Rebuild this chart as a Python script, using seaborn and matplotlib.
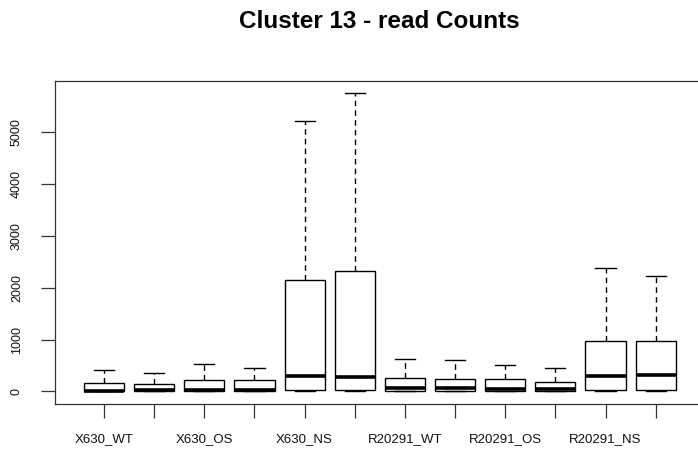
import numpy as np
import pandas as pd
import matplotlib
matplotlib.use("Agg")
import matplotlib.pyplot as plt
import seaborn as sns

plt.rcParams['font.family'] = ['Liberation Sans', 'DejaVu Sans']

# --- data ---
groups = ["X630_WT", "X630_WT.1", "X630_OS", "X630_OS.1", "X630_NS", "X630_NS.1",
          "R20291_WT", "R20291_WT.1", "R20291_OS", "R20291_OS.1", "R20291_NS", "R20291_NS.1"]
tick_labels = ["X630_WT", "", "X630_OS", "", "X630_NS", "",
               "R20291_WT", "", "R20291_OS", "", "R20291_NS", ""]
lower_whisker = [0, 0, 0, 0, 5, 0, 0, 0, 0, 0, 0, 0]
q1 = [0, 0, 0, 0, 25, 25, 0, 0, 0, 0, 25, 25]
median = [8, 25, 30, 30, 295, 270, 55, 55, 40, 40, 295, 320]
q3 = [166, 135, 218, 218, 2148, 2328, 263, 237, 237, 185, 971, 971]
upper_whisker = [417, 347, 527, 450, 5211, 5763, 630, 604, 502, 450, 2386, 2225]
yticks = [0, 1000, 2000, 3000, 4000, 5000]
title = "Cluster 13 - read Counts"

rows = []
for g, a, b, c, d, e in zip(groups, lower_whisker, q1, median, q3, upper_whisker):
    for v in (a, b, c, d, e):
        rows.append({"group": g, "count": v})
df = pd.DataFrame(rows)

W, H = 698, 455
fig = plt.figure(figsize=(W / 100, H / 100), dpi=100)
left_px, right_px, top_px, bottom_px = 54.9, 704.8, 80.7, 403.5
ax = fig.add_axes([left_px / W, (H - bottom_px) / H,
                   (right_px - left_px) / W, (bottom_px - top_px) / H])

sns.boxplot(data=df, x="group", y="count", order=groups, ax=ax,
            color="white", linecolor="black", linewidth=1.0, width=0.8,
            whis=(0, 100), showfliers=False,
            medianprops=dict(linewidth=2.6, color="black", solid_capstyle="butt"),
            whiskerprops=dict(linestyle=(0, (4, 3)), linewidth=1.0, color="black"),
            capprops=dict(linewidth=1.0, color="black"),
            boxprops=dict(edgecolor="black", facecolor="white", linewidth=1.0))

ax.set_xlim(-0.98, 11.98)
ax.set_ylim(-235, 5996)
ax.set_xlabel("")
ax.set_ylabel("")
ax.set_xticks(range(len(groups)))
ax.set_xticklabels(tick_labels)
ax.set_yticks(yticks)
ax.set_yticklabels([str(t) for t in yticks], rotation=90, va="center")
ax.tick_params(axis="both", direction="out", length=10, width=0.9, color="#333333",
               labelsize=9, labelcolor="#111111")
ax.tick_params(axis="x", pad=11, labelsize=9.5)
ax.tick_params(axis="y", pad=13)
for s in ax.spines.values():
    s.set_visible(True)
    s.set_linewidth(0.9)
    s.set_color("#333333")
ax.grid(False)

fig.text(379 / W, 1 - 21.5 / H, title, ha="center", va="center",
         fontsize=17.5, fontweight="bold", color="black")

fig.savefig("out.png", dpi=100)
